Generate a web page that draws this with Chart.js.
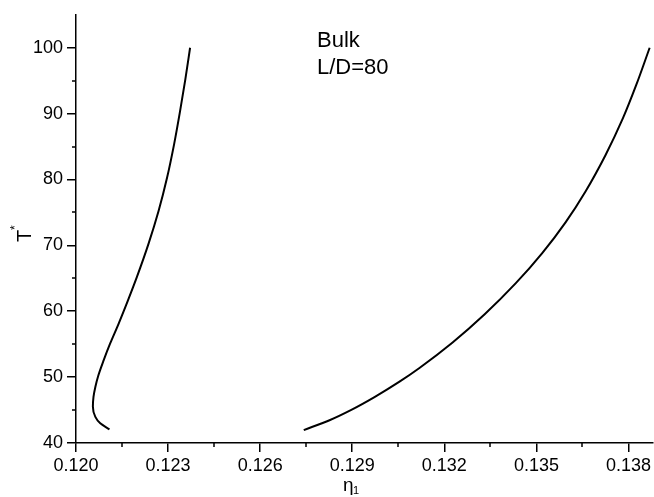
<!DOCTYPE html>
<html>
<head>
<meta charset="utf-8">
<script src="https://cdn.jsdelivr.net/npm/chart.js@4.4.0/dist/chart.umd.min.js"></script>
<style>
html, body { margin: 0; padding: 0; background: #fff; }
#wrap { width: 654px; height: 497px; }
</style>
</head>
<body>
<div id="wrap"><canvas id="chart"></canvas></div>
<script>
// left branch (bottom to top)
const leftEta = [0.12109, 0.12079, 0.12063, 0.12055, 0.12057, 0.12063, 0.12073, 0.12090, 0.12111, 0.121387, 0.12169, 0.121979, 0.122359, 0.12269, 0.122966, 0.123194, 0.123389, 0.123561, 0.123717];
const leftT   = [42.07, 42.98, 43.97, 45.49, 47.0, 48.51, 50.28, 52.54, 55.07, 58.09, 61.61, 65.13, 70.18, 75.21, 80.25, 85.29, 90.33, 95.16, 100];

// right branch
const rightEta = [0.12742, 0.12826, 0.12897, 0.129725, 0.13054, 0.13119, 0.13227, 0.133315, 0.13433, 0.13519, 0.13595, 0.13660, 0.13725, 0.13782, 0.13825, 0.13869];
const rightT   = [41.96, 43.46, 45.03, 46.97, 49.31, 51.39, 55.26, 59.54, 64.26, 68.83, 73.5, 78.19, 83.69, 89.31, 94.31, 100];

const xTicks = [0.120, 0.123, 0.126, 0.129, 0.132, 0.135, 0.138];
const xMinor = [0.1215, 0.1245, 0.1275, 0.1305, 0.1335, 0.1365];
const yTicks = [40, 50, 60, 70, 80, 90, 100];
const yMinor = [45, 55, 65, 75, 85, 95];

const FONT = 'Liberation Sans, Arial, sans-serif';

const toXY = (xs, ys) => xs.map((x, i) => ({ x: x, y: ys[i] }));

// minor ticks, axis titles and the note
const extras = {
    id: 'extras',
    afterDraw(chart) {
        const ctx = chart.ctx;
        const xs = chart.scales.x, ys = chart.scales.y;
        const a = chart.chartArea;
        ctx.save();
        ctx.strokeStyle = '#000';
        ctx.lineWidth = 1.5;
        ctx.beginPath();
        xMinor.forEach(v => {
            const px = Math.round(xs.getPixelForValue(v));
            ctx.moveTo(px, a.bottom);
            ctx.lineTo(px, a.bottom + 4);
        });
        yMinor.forEach(v => {
            const py = Math.round(ys.getPixelForValue(v));
            ctx.moveTo(a.left, py);
            ctx.lineTo(a.left - 4, py);
        });
        ctx.stroke();

        ctx.fillStyle = '#000';
        ctx.textBaseline = 'alphabetic';
        ctx.textAlign = 'left';

        // x title
        ctx.font = '19px ' + FONT;
        ctx.fillText('η', 343, 491);
        ctx.font = '11px ' + FONT;
        ctx.fillText('1', 353, 494);

        // y title
        ctx.save();
        ctx.translate(31, 242);
        ctx.rotate(-Math.PI / 2);
        ctx.font = '20px ' + FONT;
        ctx.fillText('T', 0, 0);
        ctx.font = '12px ' + FONT;
        ctx.fillText('*', 12, -12);
        ctx.restore();

        // note
        ctx.font = '22px ' + FONT;
        ctx.fillText('Bulk', 317, 47);
        ctx.fillText('L/D=80', 317, 74);
        ctx.restore();
    }
};

new Chart(document.getElementById('chart'), {
    type: 'line',
    data: {
        datasets: [
            { data: toXY(leftEta, leftT), borderColor: '#000', borderWidth: 2, pointRadius: 0, cubicInterpolationMode: 'monotone', fill: false },
            { data: toXY(rightEta, rightT), borderColor: '#000', borderWidth: 2, pointRadius: 0, cubicInterpolationMode: 'monotone', fill: false }
        ]
    },
    options: {
        indexAxis: 'y',
        responsive: true,
        maintainAspectRatio: false,
        animation: false,
        layout: { padding: { top: 13, right: 0, left: 0, bottom: 0 } },
        plugins: { legend: { display: false }, tooltip: { enabled: false } },
        scales: {
            x: {
                type: 'linear',
                min: 0.120,
                max: 0.1388,
                afterBuildTicks: s => { s.ticks = xTicks.map(v => ({ value: v })); },
                afterFit: s => { s.height = 54; },
                ticks: {
                    callback: v => v.toFixed(3),
                    color: '#000',
                    font: { family: FONT, size: 18 },
                    padding: 3,
                    maxRotation: 0,
                    autoSkip: false
                },
                grid: { drawOnChartArea: false, tickLength: 9, color: '#000', lineWidth: 1.5 },
                border: { display: true, color: '#000', width: 1.5 }
            },
            y: {
                type: 'linear',
                min: 40,
                max: 105,
                afterBuildTicks: s => { s.ticks = yTicks.map(v => ({ value: v })); },
                afterFit: s => { s.width = 76; },
                ticks: {
                    color: '#000',
                    font: { family: FONT, size: 18 },
                    padding: 4,
                    autoSkip: false
                },
                grid: { drawOnChartArea: false, tickLength: 9, color: '#000', lineWidth: 1.5 },
                border: { display: true, color: '#000', width: 1.5 }
            }
        }
    },
    plugins: [extras]
});
</script>
</body>
</html>
